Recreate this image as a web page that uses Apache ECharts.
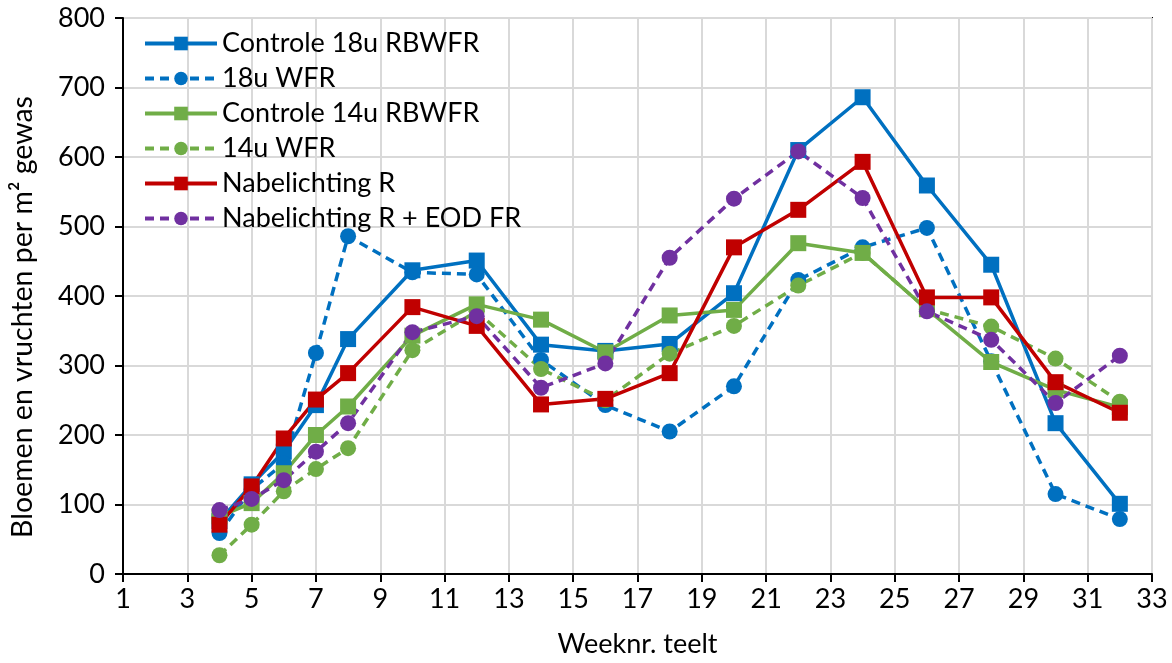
<!DOCTYPE html>
<html>
<head>
<meta charset="utf-8">
<script src="https://cdn.jsdelivr.net/npm/echarts@6/dist/echarts.min.js"></script>
<style>html,body{margin:0;padding:0;background:#fff}#c{width:1172px;height:663px}</style>
</head>
<body>
<div id="c"></div>
<script>
const weeks = [4,5,6,7,8,10,12,14,16,18,20,22,24,26,28,30,32];
const ctrl18 = [76,129,176,243,338,437,451,330,321,331,404,610,686,559,445,217,101];
const wfr18  = [59,122,159,318,486,434,431,308,243,205,270,423,470,498,306,115,79];
const ctrl14 = [83,102,145,200,241,343,388,366,319,372,380,476,462,381,305,265,240];
const wfr14  = [27,71,119,151,181,322,378,295,250,317,357,415,462,381,356,310,248];
const nabR   = [71,126,195,251,289,384,357,244,252,289,470,524,593,398,398,276,232];
const nabEOD = [92,108,135,176,217,348,371,268,303,455,540,608,541,378,337,246,314];
const names = ['Controle 18u RBWFR','18u WFR','Controle 14u RBWFR','14u WFR','Nabelichting R','Nabelichting R + EOD FR'];
const FONT = 'Lato';

function mk(name, vals, color, dashed, symbol){
  return {
    name: name, type: 'line',
    data: weeks.map((w,i)=>[w, vals[i]]),
    symbol: symbol, symbolSize: 16,
    lineStyle: {color: color, width: 3.5, type: dashed ? [9,6] : 'solid'},
    itemStyle: {color: color},
    emphasis: {disabled: true},
    animation: false
  };
}
const chart = echarts.init(document.getElementById('c'), null, {renderer:'canvas'});
chart.setOption({
  animation: false,
  backgroundColor: '#fff',
  grid: {left: 123, right: 20, top: 18, bottom: 85, show: true, borderColor: '#000', borderWidth: 2, backgroundColor: 'transparent'},
  legend: {
    left: 138, top: 25, orient: 'vertical', padding: 5,
    itemWidth: 72, itemHeight: 17, itemGap: 8,
    lineStyle: {width: 4},
    textStyle: {fontFamily: FONT, fontSize: 27, color: '#000', lineHeight: 26.5},
    data: names
  },
  xAxis: {
    type: 'value', min: 1, max: 33, interval: 2,
    name: 'Weeknr. teelt', nameLocation: 'middle', nameGap: 57,
    nameTextStyle: {fontFamily: FONT, fontSize: 27, color: '#000'},
    axisLine: {show: true, lineStyle: {color: '#000', width: 2}},
    axisTick: {show: true, length: 8, lineStyle: {color: '#000', width: 2}},
    axisLabel: {fontFamily: FONT, fontSize: 27, color: '#000', margin: 12},
    splitLine: {show: true, lineStyle: {color: '#d9d9d9', width: 2}}
  },
  yAxis: {
    type: 'value', min: 0, max: 800, interval: 100,
    name: 'Bloemen en vruchten per m² gewas', nameLocation: 'middle', nameGap: 86,
    nameTextStyle: {fontFamily: FONT, fontSize: 28.5, color: '#000', padding: [0, 42, 0, 0]},
    axisLine: {show: true, lineStyle: {color: '#000', width: 2}},
    axisTick: {show: true, length: 8, lineStyle: {color: '#000', width: 2}},
    axisLabel: {fontFamily: FONT, fontSize: 27, color: '#000', margin: 18},
    splitLine: {show: true, lineStyle: {color: '#d9d9d9', width: 2}}
  },
  series: [
    mk(names[0], ctrl18, '#0070C0', false, 'rect'),
    mk(names[1], wfr18, '#0070C0', true, 'circle'),
    mk(names[2], ctrl14, '#70AD47', false, 'rect'),
    mk(names[3], wfr14, '#70AD47', true, 'circle'),
    mk(names[4], nabR, '#C00000', false, 'rect'),
    mk(names[5], nabEOD, '#7030A0', true, 'circle')
  ]
});
</script>
</body>
</html>
